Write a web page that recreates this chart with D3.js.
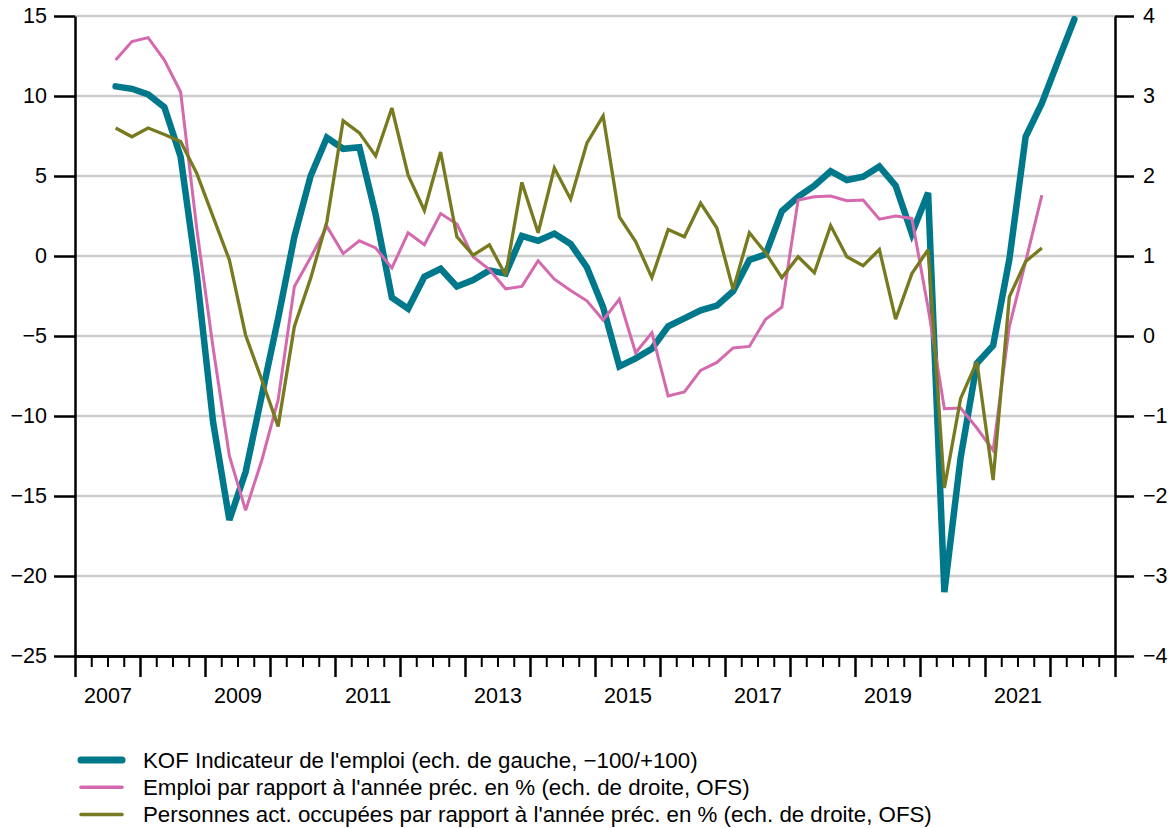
<!DOCTYPE html>
<html>
<head>
<meta charset="utf-8">
<script src="https://cdn.jsdelivr.net/npm/d3@7"></script>
<style>
  body { margin: 0; background: #fff; }
  svg text { font-family: "Liberation Sans", Arial, sans-serif; fill: #000; }
</style>
</head>
<body>
<svg id="chart" width="1173" height="828"></svg>
<script>
// quarterly data, first quarter is 2007 Q3
var startYear = 2007, startQuarter = 3;

// KOF Indicateur de l'emploi (left scale), 2007Q3 - 2022Q2
var kof = [10.6, 10.45, 10.1, 9.3, 6.2, -1.2, -10.4, -16.5, -13.5, -8.7,
  -3.9, 1.2, 5.0, 7.4, 6.7, 6.8, 2.6, -2.6, -3.3, -1.3,
  -0.8, -1.9, -1.5, -0.9, -1.1, 1.25, 0.95, 1.4, 0.75, -0.7,
  -3.2, -6.9, -6.4, -5.8, -4.4, -3.9, -3.4, -3.1, -2.2, -0.25,
  0.1, 2.8, 3.7, 4.4, 5.3, 4.75, 4.95, 5.6, 4.4, 1.4,
  3.95, -21.0, -12.6, -6.7, -5.6, -0.2, 7.45, 9.55, 12.2, 14.8];

// Emploi, var. annee prec. en % (right scale), 2007Q3 - 2021Q4
var emploi = [3.45, 3.68, 3.73, 3.45, 3.05, 1.33, -0.15, -1.5, -2.18, -1.55,
  -0.8, 0.62, 0.98, 1.37, 1.03, 1.19, 1.1, 0.85, 1.29, 1.14,
  1.53, 1.4, 0.99, 0.83, 0.59, 0.62, 0.94, 0.71, 0.57, 0.44,
  0.2, 0.46, -0.21, 0.04, -0.75, -0.7, -0.43, -0.33, -0.15, -0.13,
  0.21, 0.36, 1.7, 1.74, 1.75, 1.69, 1.7, 1.46, 1.5, 1.47,
  0.35, -0.91, -0.9, -1.15, -1.43, 0.12, 0.93, 1.76];

// Personnes actives occupees, var. annee prec. en % (right scale), 2007Q3 - 2021Q4
var personnes = [2.6, 2.49, 2.6, 2.52, 2.43, 2.03, 1.49, 0.95, 0.01, -0.55,
  -1.13, 0.12, 0.72, 1.43, 2.69, 2.54, 2.25, 2.85, 2.01, 1.57,
  2.3, 1.24, 1.01, 1.14, 0.76, 1.92, 1.29, 2.1, 1.71, 2.41,
  2.75, 1.49, 1.18, 0.73, 1.33, 1.24, 1.66, 1.35, 0.58, 1.29,
  1.04, 0.73, 0.99, 0.79, 1.38, 0.99, 0.88, 1.08, 0.21, 0.78,
  1.08, -1.9, -0.78, -0.32, -1.8, 0.49, 0.93, 1.1];

var yearLabels = [2007, 2009, 2011, 2013, 2015, 2017, 2019, 2021];
var leftTicks = [-25, -20, -15, -10, -5, 0, 5, 10, 15];
var rightTicks = [-4, -3, -2, -1, 0, 1, 2, 3, 4];

var seriesNames = [
  "KOF Indicateur de l'emploi (ech. de gauche, \u2212100/+100)",
  "Emploi par rapport \u00e0 l'ann\u00e9e pr\u00e9c. en % (ech. de droite, OFS)",
  "Personnes act. occup\u00e9es par rapport \u00e0 l'ann\u00e9e pr\u00e9c. en % (ech. de droite, OFS)"
];
var colors = ["#00788c", "#d46aad", "#777a1e"];
var widths = [6.5, 3, 3.3];

var svg = d3.select("#chart");
var plotLeft = 75, plotRight = 1115, plotTop = 16, plotBottom = 656;

var x = d3.scaleLinear().domain([2007, 2023]).range([plotLeft, plotRight]);
var yL = d3.scaleLinear().domain([-25, 15]).range([plotBottom, plotTop]);
var yR = d3.scaleLinear().domain([-4, 4]).range([plotBottom, plotTop]);

// position of quarter i (midpoint of the quarter)
function qx(i) {
  var q = startQuarter - 1 + i;
  return x(startYear + q / 4 + 0.125);
}

// grid
svg.append("g").selectAll("line")
  .data(leftTicks.filter(function(d) { return d > -25; }))
  .enter().append("line")
  .attr("x1", plotLeft).attr("x2", plotRight)
  .attr("y1", function(d) { return yL(d); })
  .attr("y2", function(d) { return yL(d); })
  .attr("stroke", "#cccccc").attr("stroke-width", 2.5);

// lines
var lineL = d3.line().x(function(d, i) { return qx(i); }).y(function(d) { return yL(d); });
var lineR = d3.line().x(function(d, i) { return qx(i); }).y(function(d) { return yR(d); });

var paths = [[kof, lineL], [emploi, lineR], [personnes, lineR]];
paths.forEach(function(p, k) {
  svg.append("path")
    .datum(p[0])
    .attr("d", p[1])
    .attr("fill", "none")
    .attr("stroke", colors[k])
    .attr("stroke-width", widths[k])
    .attr("stroke-linejoin", "miter")
    .attr("stroke-miterlimit", 3)
    .attr("stroke-linecap", k == 0 ? "round" : "butt");
});

// axes
function styleAxis(g) {
  g.selectAll(".domain").attr("stroke", "#000").attr("stroke-width", 2.5);
  g.selectAll(".tick line").attr("stroke", "#000").attr("stroke-width", 2.5);
  g.selectAll("text").style("font-size", "21.5px").attr("fill", "#000");
}

svg.append("g")
  .attr("transform", "translate(" + plotLeft + ",0)")
  .call(d3.axisLeft(yL).tickValues(leftTicks).tickSize(21).tickSizeOuter(0).tickPadding(7))
  .call(styleAxis);

svg.append("g")
  .attr("transform", "translate(" + plotRight + ",0)")
  .call(d3.axisRight(yR).tickValues(rightTicks).tickSize(19).tickSizeOuter(0).tickPadding(9))
  .call(styleAxis);

// x axis: quarter minor ticks, year major ticks, labels centred in the year
var quarterTicks = d3.range(2007, 2023.01, 0.25).filter(function(d) { return d % 1 != 0; });
var yearTicks = d3.range(2007, 2024);

svg.append("g")
  .attr("transform", "translate(0," + plotBottom + ")")
  .call(d3.axisBottom(x).tickValues(quarterTicks).tickSize(11).tickSizeOuter(0).tickFormat(""))
  .call(styleAxis)
  .selectAll(".tick line").attr("stroke-width", 2);

svg.append("g")
  .attr("transform", "translate(0," + plotBottom + ")")
  .call(d3.axisBottom(x).tickValues(yearTicks).tickSize(21).tickSizeOuter(0).tickFormat(""))
  .call(styleAxis);

svg.append("g")
  .attr("transform", "translate(0," + plotBottom + ")")
  .call(d3.axisBottom(x).tickValues(yearLabels.map(function(d) { return d + 0.5; }))
    .tickSize(0).tickPadding(32).tickFormat(function(d) { return Math.floor(d); }))
  .call(styleAxis)
  .select(".domain").remove();

// legend
var legend = svg.append("g").attr("transform", "translate(78,760)");
seriesNames.forEach(function(name, k) {
  var g = legend.append("g").attr("transform", "translate(0," + (k * 27.2) + ")");
  g.append("line")
    .attr("x1", 3).attr("x2", 44)
    .attr("stroke", colors[k])
    .attr("stroke-width", k == 0 ? 7 : 3.5)
    .attr("stroke-linecap", "round");
  g.append("text")
    .attr("x", 65).attr("dy", "0.35em")
    .style("font-size", "22.3px")
    .text(name);
});
</script>
</body>
</html>
